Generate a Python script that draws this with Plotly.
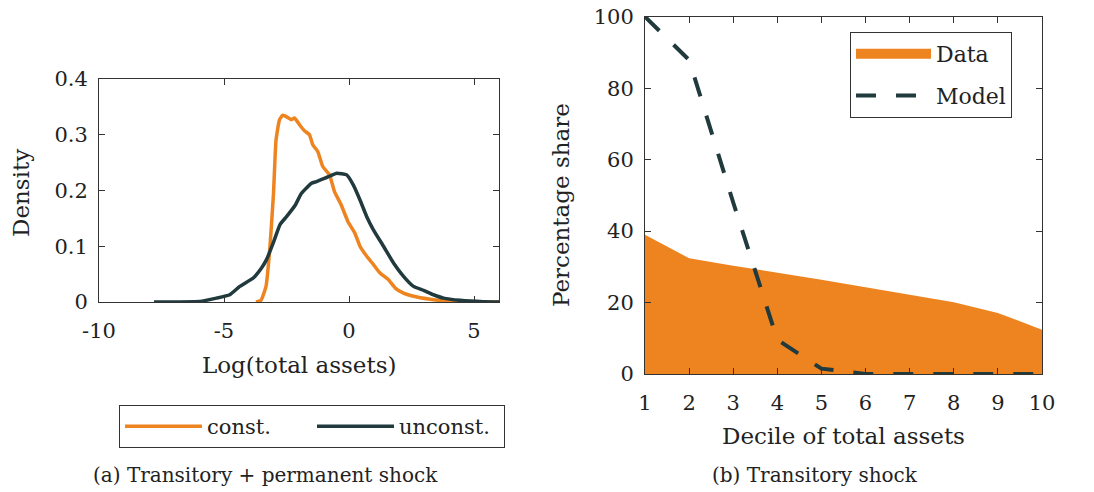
import plotly.graph_objects as go

# ---------------- data ----------------
# Panel (a): densities of log(total assets)
const_x = [-3.72, -3.52, -3.32, -3.16, -3.02, -2.92, -2.78, -2.65, -2.45, -2.32, -2.18, -1.98,
           -1.78, -1.58, -1.45, -1.25, -1.05, -0.78, -0.58, -0.31, -0.04, 0.23, 0.44, 0.71,
           0.98, 1.24, 1.58, 1.85, 2.18, 2.72, 3.38, 4.05, 5.0, 6.0]
const_y = [0.0, 0.003, 0.028, 0.10, 0.195, 0.29, 0.327, 0.335, 0.331, 0.327, 0.330, 0.318,
           0.307, 0.300, 0.282, 0.270, 0.243, 0.228, 0.198, 0.174, 0.144, 0.124, 0.100, 0.082,
           0.067, 0.052, 0.040, 0.025, 0.016, 0.009, 0.004, 0.001, 0.0003, 0.0]

unconst_x = [-7.8, -5.97, -5.3, -4.77, -4.37, -3.83, -3.5, -3.30, -3.03, -2.76, -2.5, -2.16,
             -1.9, -1.5, -1.3, -0.96, -0.76, -0.49, -0.09, 0.17, 0.44, 0.71, 0.97, 1.38,
             1.78, 2.18, 2.58, 2.98, 3.38, 3.78, 4.45, 5.38, 6.0]
unconst_y = [0.0, 0.001, 0.007, 0.013, 0.028, 0.043, 0.061, 0.076, 0.106, 0.139, 0.153, 0.173,
             0.195, 0.213, 0.216, 0.222, 0.226, 0.231, 0.228, 0.210, 0.183, 0.153, 0.130, 0.100,
             0.070, 0.046, 0.028, 0.021, 0.013, 0.007, 0.003, 0.0005, 0.0]

# Panel (b): share by decile of total assets
deciles = [1, 2, 3, 4, 5, 6, 7, 8, 9, 10]
data_share = [39.0, 32.4, 30.3, 28.4, 26.4, 24.3, 22.2, 20.1, 17.1, 12.4]
model_share = [100.0, 87.9, 48.0, 9.6, 1.5, 0.0, 0.0, 0.0, 0.0, 0.0]

left_xticks = [-10, -5, 0, 5]
left_xticklabels = ["-10", "-5", "0", "5"]
left_yticks = [0, 0.1, 0.2, 0.3, 0.4]
left_yticklabels = ["0", "0.1", "0.2", "0.3", "0.4"]
right_yticks = [0, 20, 40, 60, 80, 100]

# ---------------- style ----------------
ORANGE = "#EE8420"
DARK = "#213A3E"
AXC = "#333333"
FONT = "DejaVu Serif"
TXT = "#222222"

fig = go.Figure()

fig.add_trace(go.Scatter(x=const_x, y=const_y, mode="lines", name="const.",
                         line=dict(color=ORANGE, width=3.5, shape="spline", smoothing=0.4),
                         xaxis="x", yaxis="y", legend="legend"))
fig.add_trace(go.Scatter(x=unconst_x, y=unconst_y, mode="lines", name="unconst.",
                         line=dict(color=DARK, width=3.5, shape="spline", smoothing=0.4),
                         xaxis="x", yaxis="y", legend="legend"))

# filled area (its legend swatch is supplied by a legend-only entry below)
fig.add_trace(go.Scatter(x=deciles, y=data_share, mode="lines", name="Data",
                         fill="tozeroy", fillcolor=ORANGE, legendgroup="data",
                         line=dict(color=ORANGE, width=0), showlegend=False,
                         xaxis="x2", yaxis="y2", legend="legend2"))
fig.add_trace(go.Scatter(x=[None], y=[None], mode="lines", name="Data", legendgroup="data",
                         line=dict(color=ORANGE, width=10),
                         xaxis="x2", yaxis="y2", legend="legend2"))
fig.add_trace(go.Scatter(x=deciles, y=model_share, mode="lines", name="Model",
                         line=dict(color=DARK, width=4, dash="20px,20px"),
                         xaxis="x2", yaxis="y2", legend="legend2"))

axis_common = dict(showline=True, linecolor=AXC, linewidth=1, mirror="ticks",
                   ticks="inside", ticklen=6, tickcolor=AXC, showgrid=False, zeroline=False,
                   automargin=False,
                   tickfont=dict(family=FONT, size=21, color=TXT))

fig.update_layout(
    width=1094, height=492,
    margin=dict(l=0, r=0, t=0, b=0, autoexpand=False),
    paper_bgcolor="white", plot_bgcolor="white",
    font=dict(family=FONT, color=TXT),
    xaxis=dict(domain=[99 / 1094, 499 / 1094], anchor="y", range=[-10, 6],
               tickvals=left_xticks, ticktext=left_xticklabels, ticklabelstandoff=10,
               **axis_common),
    yaxis=dict(domain=[1 - 302 / 492, 1 - 79 / 492], anchor="x", range=[0, 0.4],
               tickvals=left_yticks, ticktext=left_yticklabels, ticklabelstandoff=6,
               **axis_common),
    xaxis2=dict(domain=[645 / 1094, 1042 / 1094], anchor="y2", range=[1, 10],
                tickvals=deciles, ticklabelstandoff=10, **axis_common),
    yaxis2=dict(domain=[1 - 374 / 492, 1 - 16.7 / 492], anchor="x2", range=[0, 100],
                tickvals=right_yticks, ticklabelstandoff=6, **axis_common),
    legend=dict(orientation="h", x=119 / 1094, y=1 - 405 / 492, xanchor="left", yanchor="top",
                bordercolor=AXC, borderwidth=1, bgcolor="white",
                font=dict(family=FONT, size=21, color=TXT), itemwidth=77,
                entrywidth=100, tracegroupgap=0),
    legend2=dict(orientation="v", x=850 / 1094, y=1 - 32 / 492, xanchor="left", yanchor="top",
                 bordercolor=AXC, borderwidth=1, bgcolor="white",
                 font=dict(family=FONT, size=22, color=TXT), itemwidth=75),
    showlegend=True,
)

annotations = [
    dict(text="Density", x=21 / 1094, y=1 - 193 / 492, textangle=-90,
         font=dict(size=23)),
    dict(text="Log(total assets)", x=299 / 1094, y=1 - 365 / 492, font=dict(size=23)),
    dict(text="Percentage share", x=561 / 1094, y=1 - 205 / 492, textangle=-90,
         font=dict(size=23)),
    dict(text="Decile of total assets", x=843 / 1094, y=1 - 436 / 492, font=dict(size=23)),
    dict(text="(a) Transitory + permanent shock", x=265 / 1094, y=1 - 475 / 492,
         font=dict(size=20)),
    dict(text="(b) Transitory shock", x=815 / 1094, y=1 - 475 / 492, font=dict(size=20)),
]
for a in annotations:
    a.update(xref="paper", yref="paper", showarrow=False, xanchor="center", yanchor="middle")
    a["font"].update(family=FONT, color=TXT)
fig.update_layout(annotations=annotations)

fig.write_html("out.html")
